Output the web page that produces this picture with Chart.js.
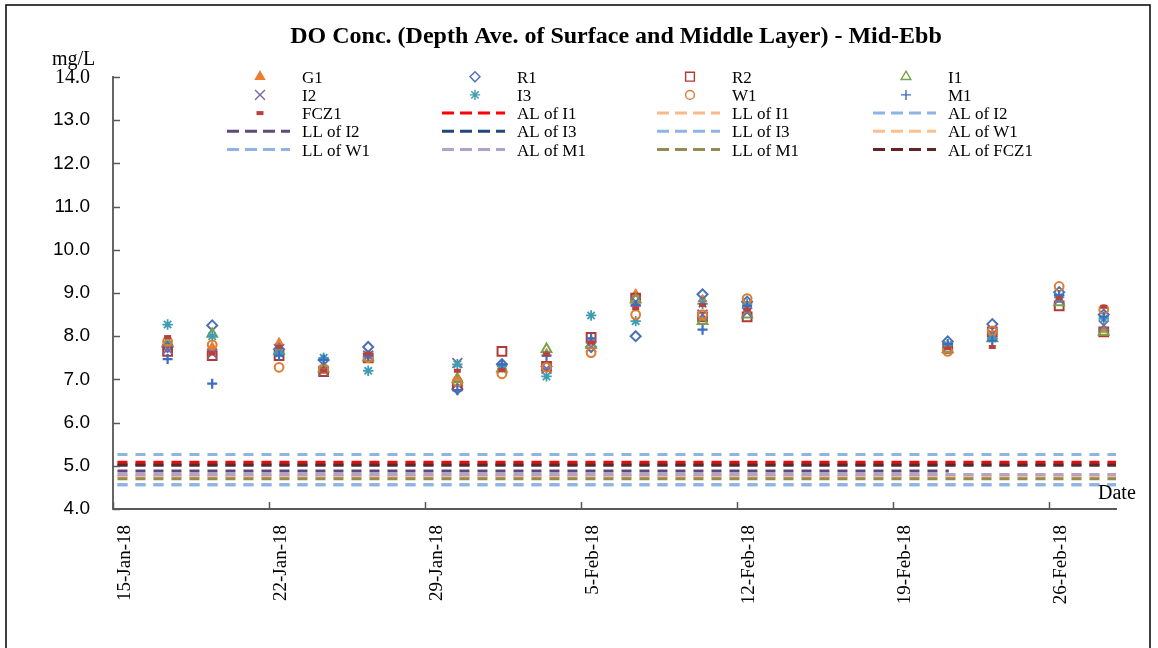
<!DOCTYPE html>
<html>
<head>
<meta charset="utf-8">
<title>DO Conc. - Mid-Ebb</title>
<script src="https://cdn.jsdelivr.net/npm/chart.js@4.4.1/dist/chart.umd.min.js"></script>
<style>
  html, body { margin: 0; padding: 0; background: #fff; }
  #wrap { position: relative; width: 1158px; height: 648px; }
</style>
</head>
<body>
<div id="wrap"><canvas id="doChart"></canvas></div>
<script>
// sampling dates (2018), values in mg/L
const sampleDates = ['17-Jan', '19-Jan', '22-Jan', '24-Jan', '26-Jan', '30-Jan', '1-Feb', '3-Feb',
  '5-Feb', '7-Feb', '10-Feb', '12-Feb', '21-Feb', '23-Feb', '26-Feb', '28-Feb'];

const G1   = [7.80, 7.75, 7.85, 7.30, 7.55, 7.05, 7.30, 7.60, 7.90, 8.98, 8.85, 8.60, 7.75, 8.05, 8.85, 8.15];
const R1   = [7.75, 8.25, 7.70, 7.45, 7.75, 6.78, 7.35, 7.30, 7.75, 8.00, 8.97, 8.80, 7.88, 8.28, 9.02, 8.50];
const R2   = [7.65, 7.55, 7.55, 7.18, 7.50, 6.85, 7.65, 7.30, 7.97, 8.88, 8.45, 8.45, 7.72, 8.10, 8.70, 8.10];
const I1   = [7.85, 8.05, 7.65, 7.25, 7.50, 7.00, 7.25, 7.70, 7.80, 8.85, 8.35, 8.50, 7.70, 7.95, 8.78, 8.10];
const I2   = [7.70, 7.60, 7.70, 7.20, 7.55, 7.38, 7.25, 7.25, 7.75, 8.80, 8.50, 8.55, 7.75, 8.05, 8.85, 8.25];
const I3   = [8.27, 8.00, 7.60, 7.50, 7.20, 7.35, 7.30, 7.07, 8.48, 8.35, 8.75, 8.75, 7.80, 7.95, 8.90, 8.40];
const W1   = [7.88, 7.80, 7.28, 7.25, 7.50, 6.95, 7.13, 7.28, 7.62, 8.50, 8.50, 8.87, 7.65, 8.12, 9.15, 8.62];
const M1   = [7.47, 6.90, 7.55, 7.45, 7.55, 6.75, 7.35, 7.55, 7.95, 8.72, 8.15, 8.70, 7.82, 7.90, 8.95, 8.45];
const FCZ1 = [7.98, 7.60, 7.75, 7.20, 7.60, 7.20, 7.22, 7.58, 7.85, 8.65, 8.72, 8.62, 7.72, 7.75, 8.88, 8.68];

// action / limit levels
const AL_I1 = 5.08, LL_I1 = 4.76;
const AL_I2 = 5.26, LL_I2 = 4.88;
const AL_I3 = 5.02, LL_I3 = 4.56;
const AL_W1 = 4.78, LL_W1 = 4.56;
const AL_M1 = 4.80, LL_M1 = 4.70;
const AL_FCZ1 = 5.02;

const xTickLabels = ['15-Jan-18', '22-Jan-18', '29-Jan-18', '5-Feb-18', '12-Feb-18', '19-Feb-18', '26-Feb-18'];
const yMin = 4, yMax = 14;

// ---- helpers ----
const MONTHS = { Jan: 0, Feb: 1, Mar: 2 };
function dayNo(s) {
  const p = s.split('-');
  return (Date.UTC(2018, MONTHS[p[1]], +p[0]) - Date.UTC(2018, 0, 15)) / 86400000;
}
const sampleDays = sampleDates.map(d => dayNo(d) + 0.45);   // sampled late morning
const xTickDays = xTickLabels.map(dayNo);
const xEnd = dayNo('1-Mar');

function pts(vals) { return vals.map((v, i) => ({ x: sampleDays[i], y: v })); }
function level(v, to) { return [{ x: 0.2, y: v }, { x: to === undefined ? xEnd : to, y: v }]; }

function marker(label, vals, style, color, r, bw, filled) {
  return {
    label: label, data: pts(vals), showLine: false,
    pointStyle: style, pointRadius: r, pointHoverRadius: r, pointBorderWidth: bw,
    pointBorderColor: color, pointBackgroundColor: filled ? color : 'rgba(0,0,0,0)',
    borderColor: color, backgroundColor: filled ? color : 'rgba(0,0,0,0)'
  };
}
function dashed(label, data, color) {
  return {
    label: label, data: data, showLine: true, pointRadius: 0, pointHoverRadius: 0,
    borderColor: color, borderWidth: 3, borderDash: [10, 8], isLine: true
  };
}

const allSeries = [
  marker('G1', G1, 'triangle', '#ED7D31', 5.2, 1, true),
  marker('R1', R1, 'rectRot', '#4A70B8', 5, 2, false),
  marker('R2', R2, 'rect', '#B03A36', 6.2, 2, false),
  marker('I1', I1, 'triangle', '#79A347', 5.6, 2, false),
  marker('I2', I2, 'crossRot', '#7B68A0', 7, 1.8, false),
  marker('I3', I3, 'star', '#3E9DB0', 5.2, 1.8, false),
  marker('W1', W1, 'circle', '#E07B30', 4.4, 2, false),
  marker('M1', M1, 'cross', '#3D6CC0', 5, 2.2, false),
  marker('FCZ1', FCZ1, 'line', '#B8403D', 3.5, 4, false),
  dashed('AL of I1', level(AL_I1), '#FF0000'),
  dashed('LL of I1', level(LL_I1), '#FBB98A'),
  dashed('AL of I2', level(AL_I2), '#8EB4E3'),
  dashed('LL of I2', level(LL_I2, 37.5), '#604A7B'),
  dashed('AL of I3', level(AL_I3), '#1F497D'),
  dashed('LL of I3', level(LL_I3), '#8EB4E3'),
  dashed('AL of W1', level(AL_W1), '#FAC090'),
  dashed('LL of W1', level(LL_W1), '#8EB4E3'),
  dashed('AL of M1', level(AL_M1), '#B3A2C7'),
  dashed('LL of M1', level(LL_M1), '#948A54'),
  dashed('AL of FCZ1', level(AL_FCZ1), '#632523')
];
// later series on top, like the original
allSeries.forEach((ds, i) => { ds.order = allSeries.length - i; });

// extra text, legend, inward ticks and frame
const decor = {
  id: 'decor',
  afterDraw(chart) {
    const ctx = chart.ctx;
    const a = chart.chartArea;
    const xs = chart.scales.x, ys = chart.scales.y;
    ctx.save();

    // inward tick marks
    ctx.strokeStyle = '#595959';
    ctx.lineWidth = 1.5;
    ys.ticks.forEach(t => {
      const y = Math.round(ys.getPixelForValue(t.value)) + 0.5;
      ctx.beginPath(); ctx.moveTo(a.left, y); ctx.lineTo(a.left + 7, y); ctx.stroke();
    });
    xs.ticks.forEach(t => {
      const x = Math.round(xs.getPixelForValue(t.value)) + 0.5;
      ctx.beginPath(); ctx.moveTo(x, a.bottom); ctx.lineTo(x, a.bottom - 7); ctx.stroke();
    });

    // title and axis texts
    ctx.fillStyle = '#000';
    ctx.font = 'bold 24px "Liberation Serif"';
    ctx.textAlign = 'center';
    ctx.textBaseline = 'alphabetic';
    ctx.fillText('DO Conc. (Depth Ave. of Surface and Middle Layer) - Mid-Ebb', 616, 43);

    ctx.font = '20px "Liberation Serif"';
    ctx.textAlign = 'left';
    ctx.fillText('mg/L', 52, 65);
    ctx.textAlign = 'right';
    ctx.fillText('14.0', 90, 83);
    ctx.textAlign = 'left';
    ctx.fillText('Date', 1098, 499);

    // legend, 4 columns
    const colX = [302, 517, 732, 948];
    ctx.font = '17px "Liberation Serif"';
    chart.data.datasets.forEach((ds, i) => {
      const tx = colX[i % 4];
      const cy = 76.7 + Math.floor(i / 4) * 18.2;
      if (ds.isLine) {
        ctx.save();
        ctx.strokeStyle = ds.borderColor;
        ctx.lineWidth = 3;
        ctx.setLineDash([12, 6]);
        ctx.beginPath(); ctx.moveTo(tx - 75, cy); ctx.lineTo(tx - 12, cy); ctx.stroke();
        ctx.restore();
      } else {
        ctx.save();
        ctx.strokeStyle = ds.pointBorderColor;
        ctx.fillStyle = ds.pointBackgroundColor;
        ctx.lineWidth = ds.pointStyle === 'line' ? ds.pointBorderWidth : 1.4;
        Chart.helpers.drawPoint(ctx, {
          pointStyle: ds.pointStyle, rotation: 0,
          radius: ds.pointRadius, borderWidth: ctx.lineWidth
        }, tx - 42, cy);
        ctx.restore();
      }
      ctx.fillStyle = '#000';
      ctx.textAlign = 'left';
      ctx.fillText(ds.label, tx, cy + 6);
    });

    // outer frame
    ctx.strokeStyle = '#000';
    ctx.lineWidth = 1.5;
    ctx.strokeRect(6, 5, 1144, 700);
    ctx.restore();
  }
};

new Chart(document.getElementById('doChart'), {
  type: 'scatter',
  data: { datasets: allSeries },
  options: {
    responsive: true,
    maintainAspectRatio: false,
    animation: false,
    events: [],
    layout: { padding: { left: 0, top: 77, right: 42, bottom: 0 } },
    plugins: {
      legend: { display: false },
      title: { display: false },
      tooltip: { enabled: false }
    },
    scales: {
      x: {
        type: 'linear',
        min: 0,
        max: xEnd,
        afterBuildTicks: s => { s.ticks = xTickDays.map(v => ({ value: v })); },
        afterFit: s => { s.height = 648 - 509; },
        grid: { display: false, drawTicks: false },
        border: { display: true, color: '#595959', width: 2 },
        ticks: {
          autoSkip: false,
          minRotation: 90,
          maxRotation: 90,
          padding: 16,
          labelOffset: 12,
          color: '#000',
          font: { family: '"Liberation Serif"', size: 19 },
          callback: (v) => xTickLabels[xTickDays.indexOf(v)] || ''
        }
      },
      y: {
        min: yMin,
        max: yMax,
        afterFit: s => { s.width = 113; },
        grid: { display: false, drawTicks: false },
        border: { display: true, color: '#666666', width: 2 },
        ticks: {
          stepSize: 1,
          padding: 23,
          color: '#000',
          font: { family: '"Liberation Sans"', size: 19 },
          callback: v => (v === yMax ? '' : v.toFixed(1))
        }
      }
    }
  },
  plugins: [decor]
});
</script>
</body>
</html>
